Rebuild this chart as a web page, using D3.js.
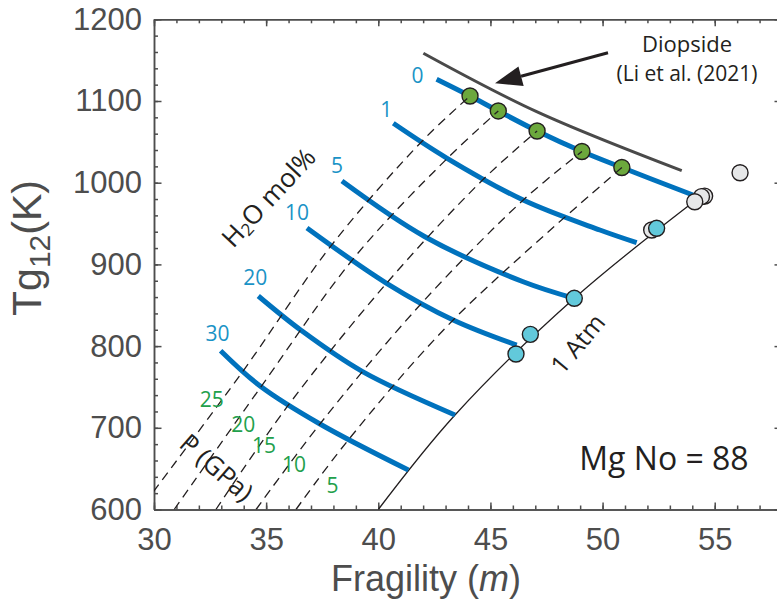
<!DOCTYPE html>
<html>
<head>
<meta charset="utf-8">
<script src="https://cdn.jsdelivr.net/npm/d3@7"></script>
<style>
  body { margin: 0; background: #fff; }
  svg { display: block; }
</style>
</head>
<body>
<div id="chart"></div>
<script>
// water content (mol%) of each blue curve
const waterLevels = ["0", "1", "5", "10", "20", "30"];
// points along each blue curve: [fragility m, Tg12 (K)]
const water0 = [[42.60,1126.6],[44.09,1106.1],[45.35,1087.8],[47.08,1063.3],[49.08,1038.2],[50.86,1018.6],[54.03,984.9]];
const water1 = [[40.67,1072.7],[43.05,1030.2],[46.46,978.8],[49.88,942.1],[51.52,926.6]];
const water5 = [[38.38,1002.1],[42.08,933.9],[46.46,878.8],[48.74,858.5]];
const water10 = [[36.82,944.6],[40.37,876.9],[43.34,832.0],[46.17,801.3]];
const water20 = [[34.65,861.3],[36.58,818.8],[39.30,768.7],[43.42,715.7]];
const water30 = [[32.97,794.4],[34.73,751.2],[37.40,704.7],[41.34,648.4]];
const waterCurves = [water0, water1, water5, water10, water20, water30];

// isobars (GPa), dashed
const pressureLevels = ["25", "20", "15", "10", "5"];
const p25 = [[29.97,621.8],[33.97,769.5],[37.92,923.7],[41.93,1050.2],[44.09,1106.1]];
const p20 = [[30.90,600],[34.73,748.7],[38.96,909.4],[43.05,1029.0],[45.35,1087.8]];
const p15 = [[32.76,600],[35.93,725.5],[40.37,876.9],[44.65,1003.3],[47.08,1063.3]];
const p10 = [[34.55,600],[37.40,704.7],[41.86,850.3],[46.50,979.7],[49.08,1038.2]];
const p5 = [[36.33,600],[38.59,682.6],[43.34,832.0],[50.86,1018.6]];
const pressureLines = [p25, p20, p15, p10, p5];

// 1 atm line
const atmLine = [[40.00,600],[43.42,715.7],[48.74,858.5],[54.34,982.5]];
// diopside (Li et al. 2021)
const diopsideLine = [[42.01,1158.4],[47.06,1086.9],[53.53,1014.7]];

// measured points
const greyPoints = [[52.19,942.1],[54.55,983.6],[54.41,982.9],[54.11,976.7],[56.13,1012.2]];
const cyanPoints = [[46.14,790.3],[46.78,814.4],[48.74,858.5],[52.41,944.2]];
const greenPoints = [[44.09,1106.1],[45.35,1087.8],[47.08,1063.3],[49.08,1038.2],[50.86,1018.6]];

const xTicks = [30, 35, 40, 45, 50, 55];
const yTicks = [600, 700, 800, 900, 1000, 1100, 1200];

const width = 777, height = 601;
const plotLeft = 154, plotRight = 782, plotTop = 19.3, plotBottom = 509.5;

const x = d3.scaleLinear().domain([30, 58]).range([plotLeft, plotRight]);
const y = d3.scaleLinear().domain([600, 1200]).range([plotBottom, plotTop]);

const svg = d3.select("#chart").append("svg")
    .attr("width", width)
    .attr("height", height);

svg.append("defs").append("clipPath").attr("id", "plot")
  .append("rect").attr("x", plotLeft).attr("y", plotTop)
    .attr("width", plotRight - plotLeft).attr("height", plotBottom - plotTop);

const line = d3.line()
    .x(d => x(d[0]))
    .y(d => y(d[1]))
    .curve(d3.curveCatmullRom.alpha(0.5));

const axisColor = "#4d4d4d";
const tickFont = "'Liberation Sans', Arial, Helvetica, sans-serif";
const noteFont = "'Open Sans', 'Noto Sans', sans-serif";

// axes, ticks pointing inward
function styleAxis(g) {
    g.selectAll("path, line").attr("stroke", axisColor).attr("stroke-width", 1.5);
    g.selectAll("text").attr("fill", axisColor).attr("font-family", tickFont).attr("font-size", 31);
}
const minorX = d3.range(30, 59, 1);
const minorY = d3.range(600, 1201, 20);

svg.append("g").attr("transform", `translate(0,${plotBottom})`)
    .call(d3.axisBottom(x).tickValues(minorX).tickSize(-4).tickSizeOuter(0).tickFormat(""))
    .call(styleAxis);
svg.append("g").attr("transform", `translate(0,${plotBottom})`)
    .call(d3.axisBottom(x).tickValues(xTicks).tickSize(-7).tickSizeOuter(0).tickPadding(18).tickFormat(d3.format("d")))
    .call(styleAxis);
svg.append("g").attr("transform", `translate(0,${plotTop})`)
    .call(d3.axisTop(x).tickValues(minorX).tickSize(-4).tickSizeOuter(0).tickFormat(""))
    .call(styleAxis);
svg.append("g").attr("transform", `translate(0,${plotTop})`)
    .call(d3.axisTop(x).tickValues(xTicks).tickSize(-7).tickSizeOuter(0).tickFormat(""))
    .call(styleAxis);
svg.append("g").attr("transform", `translate(${plotLeft},0)`)
    .call(d3.axisLeft(y).tickValues(minorY).tickSize(-4).tickSizeOuter(0).tickFormat(""))
    .call(styleAxis);
svg.append("g").attr("transform", `translate(${plotLeft},0)`)
    .call(d3.axisLeft(y).tickValues(yTicks).tickSize(-7.5).tickSizeOuter(0).tickPadding(12).tickFormat(d3.format("d")))
    .call(styleAxis);
svg.append("g").attr("transform", `translate(${plotRight},0)`)
    .call(d3.axisRight(y).tickValues(minorY).tickSize(-4).tickSizeOuter(0).tickFormat(""))
    .call(styleAxis);
svg.append("g").attr("transform", `translate(${plotRight},0)`)
    .call(d3.axisRight(y).tickValues(yTicks).tickSize(-7.5).tickSizeOuter(0).tickFormat(""))
    .call(styleAxis);

// axis titles
svg.append("text")
    .attr("x", 426).attr("y", 591)
    .attr("text-anchor", "middle")
    .attr("font-family", tickFont).attr("font-size", 36).attr("fill", axisColor)
    .html("Fragility (<tspan font-style='italic'>m</tspan>)");

svg.append("text")
    .attr("transform", "translate(41,248) rotate(-90)")
    .attr("text-anchor", "middle")
    .attr("font-family", tickFont).attr("font-size", 41).attr("fill", axisColor)
    .html("Tg<tspan font-size='30' dy='9'>12</tspan><tspan dy='-9'>(K)</tspan>");

const plot = svg.append("g").attr("clip-path", "url(#plot)");

// 1 atm line
plot.append("path").datum(atmLine)
    .attr("d", line).attr("fill", "none")
    .attr("stroke", "#231f20").attr("stroke-width", 1.3);

// diopside
plot.append("path").datum(diopsideLine)
    .attr("d", line).attr("fill", "none")
    .attr("stroke", "#4a4a4a").attr("stroke-width", 3);

// water curves
plot.selectAll(".water").data(waterCurves).join("path")
    .attr("class", "water")
    .attr("d", line).attr("fill", "none")
    .attr("stroke", "#0072bd").attr("stroke-width", 5);

// points
function dots(data, fill) {
    plot.append("g").selectAll("circle").data(data).join("circle")
        .attr("cx", d => x(d[0])).attr("cy", d => y(d[1])).attr("r", 8)
        .attr("fill", fill).attr("stroke", "#231f20").attr("stroke-width", 1.4);
}
dots(greyPoints, "#e6e7e8");
dots(cyanPoints, "#62c9db");
dots(greenPoints, "#6ca83d");

// isobars
plot.selectAll(".iso").data(pressureLines).join("path")
    .attr("class", "iso")
    .attr("d", line).attr("fill", "none")
    .attr("stroke", "#231f20").attr("stroke-width", 1.3)
    .attr("stroke-dasharray", "9,6");

// labels on the water curves
const waterOffsets = [[-19, 4], [-7, -6], [-5, -8], [-10, -8], [-3, -11], [-3, -10]];
svg.append("g").selectAll("text").data(waterLevels).join("text")
    .attr("x", (d, i) => x(waterCurves[i][0][0]) + waterOffsets[i][0])
    .attr("y", (d, i) => y(waterCurves[i][0][1]) + waterOffsets[i][1])
    .attr("text-anchor", "middle")
    .attr("font-family", noteFont).attr("font-size", 21).attr("fill", "#1a93c6")
    .text(d => d);

// pressure labels
const pressureLabelPos = [[211.7,406.7],[243.3,431.7],[264,453.3],[294,471.7],[332.5,493.3]];
svg.append("g").selectAll("text").data(pressureLevels).join("text")
    .attr("x", (d, i) => pressureLabelPos[i][0])
    .attr("y", (d, i) => pressureLabelPos[i][1])
    .attr("text-anchor", "middle")
    .attr("font-family", noteFont).attr("font-size", 21).attr("fill", "#22a04b")
    .text(d => d);

// rotated notes
svg.append("text")
    .attr("transform", "translate(268,197) rotate(-47)")
    .attr("text-anchor", "middle").attr("dominant-baseline", "central")
    .attr("font-family", noteFont).attr("font-size", 26).attr("fill", "#231f20")
    .html("H<tspan font-size='17' dy='6'>2</tspan><tspan dy='-6'>O mol%</tspan>");

svg.append("text")
    .attr("transform", "translate(217,467) rotate(41)")
    .attr("text-anchor", "middle").attr("dominant-baseline", "central")
    .attr("font-family", noteFont).attr("font-size", 26).attr("fill", "#231f20")
    .text("P (GPa)");

svg.append("text")
    .attr("transform", "translate(577,343) rotate(-50)")
    .attr("text-anchor", "middle").attr("dominant-baseline", "central")
    .attr("font-family", noteFont).attr("font-size", 25).attr("fill", "#231f20")
    .text("1 Atm");

svg.append("text")
    .attr("x", 664).attr("y", 470)
    .attr("text-anchor", "middle")
    .attr("font-family", noteFont).attr("font-size", 32).attr("fill", "#231f20")
    .text("Mg No = 88");

svg.append("text")
    .attr("x", 687).attr("y", 52)
    .attr("text-anchor", "middle")
    .attr("font-family", noteFont).attr("font-size", 22).attr("fill", "#231f20")
    .text("Diopside");
svg.append("text")
    .attr("x", 687).attr("y", 81)
    .attr("text-anchor", "middle")
    .attr("font-family", noteFont).attr("font-size", 21).attr("fill", "#231f20")
    .text("(Li et al. (2021)");

// arrow toward the diopside line
const arrowFrom = [608, 52.7], arrowTo = [495, 83.3];
const ang = Math.atan2(arrowTo[1] - arrowFrom[1], arrowTo[0] - arrowFrom[0]);
const headLen = 27, headHalf = 10;
const baseX = arrowTo[0] - headLen * Math.cos(ang), baseY = arrowTo[1] - headLen * Math.sin(ang);
svg.append("line")
    .attr("x1", arrowFrom[0]).attr("y1", arrowFrom[1])
    .attr("x2", baseX).attr("y2", baseY)
    .attr("stroke", "#231f20").attr("stroke-width", 3);
svg.append("path")
    .attr("d", `M${arrowTo[0]},${arrowTo[1]}L${baseX + headHalf * Math.sin(ang)},${baseY - headHalf * Math.cos(ang)}L${baseX - headHalf * Math.sin(ang)},${baseY + headHalf * Math.cos(ang)}Z`)
    .attr("fill", "#231f20");
</script>
</body>
</html>
